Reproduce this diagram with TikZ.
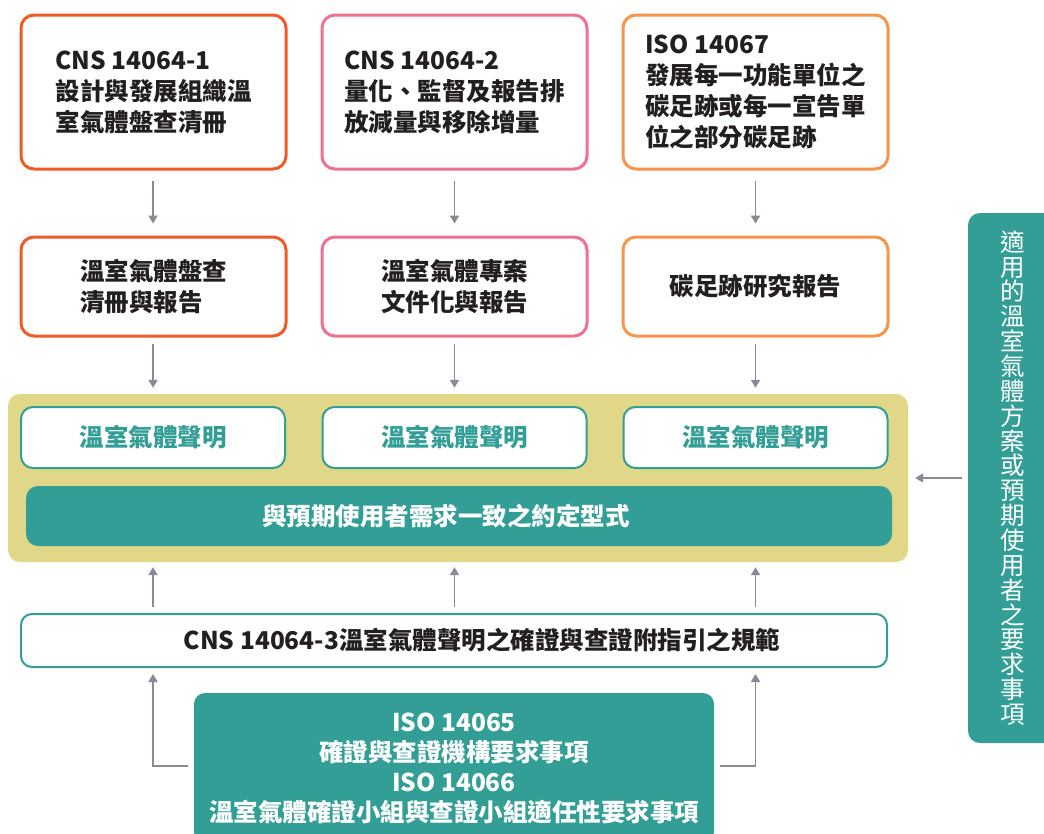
\documentclass[tikz,border=0pt]{standalone}
\usepackage{fontspec}
\setmainfont{Noto Sans CJK TC}
\usetikzlibrary{arrows.meta}
\definecolor{cA}{HTML}{F05A28}
\definecolor{cB}{HTML}{EE7290}
\definecolor{cC}{HTML}{F7954F}
\definecolor{tealc}{HTML}{339E96}
\definecolor{khaki}{HTML}{E1D788}
\definecolor{arrowgray}{HTML}{8A8996}
\definecolor{ink}{HTML}{231F20}
\begin{document}
\begin{tikzpicture}[x=1pt,y=-1pt,
  every node/.style={font=\fontsize{24.5}{31}\selectfont\bfseries, inner sep=0pt},
  topbox/.style={draw=#1, line width=3pt, rounded corners=13pt, fill=white, text=ink, align=left, minimum width=265pt},
  stmt/.style={draw=tealc, line width=2pt, rounded corners=12pt, fill=white, text=tealc, minimum width=264pt, minimum height=61pt},
  arr/.style={draw=arrowgray, line width=1.8pt, -{Triangle[width=9pt,length=8pt]}}
]
\useasboundingbox[fill=white] (0,0) rectangle (1044,833);

% top row
\node[topbox=cA, minimum height=154pt] (t1) at (153.5,92) {CNS 14064-1\\設計與發展組織溫\\室氣體盤查清冊};
\node[topbox=cB, minimum height=154pt] (t2) at (454.5,92) {CNS 14064-2\\量化、監督及報告排\\放減量與移除增量};
\node[topbox=cC, minimum height=154pt] (t3) at (755.5,92) {ISO 14067\\發展每一功能單位之\\碳足跡或每一宣告單\\位之部分碳足跡};

% second row
\node[topbox=cA, minimum height=99pt] (m1) at (153.5,286.5) {溫室氣體盤查\\清冊與報告};
\node[topbox=cB, minimum height=99pt] (m2) at (454.5,286.5) {溫室氣體專案\\文件化與報告};
\node[topbox=cC, minimum height=99pt] (m3) at (755.5,286.5) {碳足跡研究報告};

% panel
\node[fill=khaki, rounded corners=12pt, minimum width=900pt, minimum height=168pt] (panel) at (458,478) {};
\node[stmt] (s1) at (153,437.5) {溫室氣體聲明};
\node[stmt] (s2) at (454.5,437.5) {溫室氣體聲明};
\node[stmt] (s3) at (755.5,437.5) {溫室氣體聲明};
\node[fill=tealc, text=white, rounded corners=12pt, minimum width=866pt, minimum height=60pt] (bar) at (459,516) {與預期使用者需求一致之約定型式\hspace*{26pt}};

% CNS 14064-3
\node[draw=tealc, line width=2pt, rounded corners=11pt, fill=white, text=ink, minimum width=866pt, minimum height=53pt] (cns) at (454,640.5) {\hspace*{56pt}CNS 14064-3溫室氣體聲明之確證與查證附指引之規範};

% bottom box
\node[fill=tealc, text=white, rounded corners=11pt, minimum width=520pt, minimum height=150pt, align=center, font=\fontsize{24.5}{30}\selectfont\bfseries] (iso) at (454,768) {ISO 14065\\確證與查證機構要求事項\\ISO 14066\\溫室氣體確證小組與查證小組適任性要求事項};

% right bar
\node[fill=tealc, text=white, rounded corners=12pt, minimum width=90pt, minimum height=530pt, align=center, font=\fontsize{24.5}{24.85}\selectfont] (req) at (1013,478) {適\\用\\的\\溫\\室\\氣\\體\\方\\案\\或\\預\\期\\使\\用\\者\\之\\要\\求\\事\\項};

% arrows down
\draw[arr, shorten <=10pt, shorten >=12pt] (t1.south -| s1.north) -- (m1.north -| s1.north);
\draw[arr, shorten <=10pt, shorten >=12pt] (t2.south -| s2.north) -- (m2.north -| s2.north);
\draw[arr, shorten <=10pt, shorten >=12pt] (t3.south -| s3.north) -- (m3.north -| s3.north);
\draw[arr, shorten <=6pt, shorten >=6pt] (m1.south -| s1.north) -- (panel.north -| s1.north);
\draw[arr, shorten <=6pt, shorten >=6pt] (m2.south -| s2.north) -- (panel.north -| s2.north);
\draw[arr, shorten <=6pt, shorten >=6pt] (m3.south -| s3.north) -- (panel.north -| s3.north);

% arrows up
\draw[arr, shorten <=6pt, shorten >=5pt] (cns.north -| s1.north) -- (panel.south -| s1.north);
\draw[arr, shorten <=6pt, shorten >=5pt] (cns.north -| s2.north) -- (panel.south -| s2.north);
\draw[arr, shorten <=6pt, shorten >=5pt] (cns.north -| s3.north) -- (panel.south -| s3.north);

% from bottom box
\coordinate (lb) at ([xshift=-6pt,yshift=2pt]iso.west);
\coordinate (rb) at ([xshift=6pt,yshift=2pt]iso.east);
\draw[arr, shorten >=6pt] (lb) -| (cns.south -| s1.north);
\draw[arr, shorten >=6pt] (rb) -| (cns.south -| s3.north);

% from right bar
\draw[arr, shorten <=6pt, shorten >=7pt] (req.west |- panel.east) -- (panel.east);
\end{tikzpicture}
\end{document}
